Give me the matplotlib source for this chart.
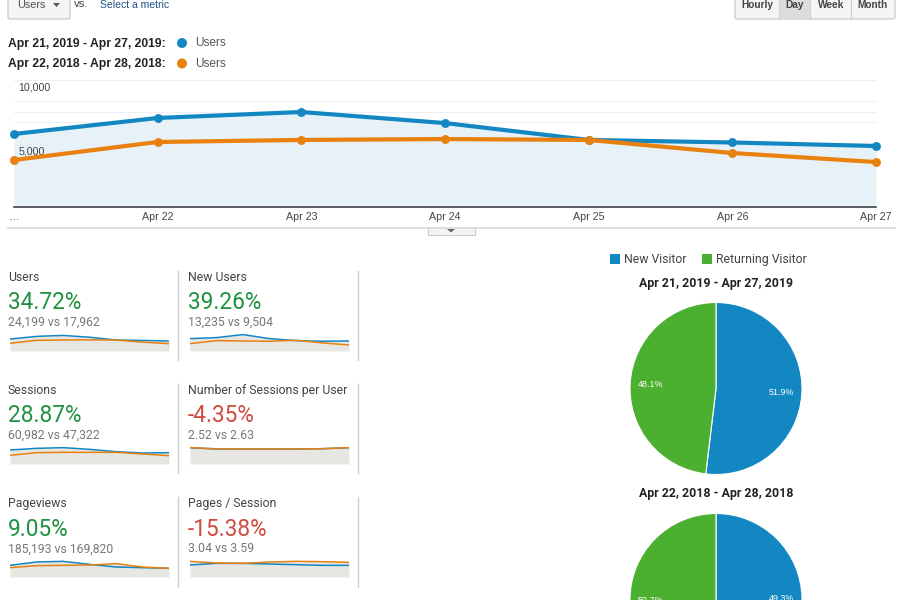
import matplotlib
matplotlib.use("Agg")
import matplotlib.pyplot as plt
from matplotlib.patches import Rectangle, FancyBboxPatch, Polygon, Circle
from matplotlib.transforms import ScaledTranslation

# ---------- data ----------
days = ["…", "Apr 22", "Apr 23", "Apr 24", "Apr 25", "Apr 26", "Apr 27"]
users_2019 = [5750, 7010, 7480, 6610, 5280, 5080, 4800]
users_2018 = [3700, 5120, 5280, 5350, 5280, 4250, 3540]
grid_values = [1650, 2440, 3390, 5040, 6690, 7480, 8350, 10000]
y_ticks = [5000, 10000]
y_tick_labels = ["5,000", "10,000"]

titles = ["Users", "New Users", "Sessions", "Number of Sessions per User", "Pageviews", "Pages / Session"]
changes = ["34.72%", "39.26%", "28.87%", "-4.35%", "9.05%", "-15.38%"]
compares = ["24,199 vs 17,962", "13,235 vs 9,504", "60,982 vs 47,322",
            "2.52 vs 2.63", "185,193 vs 169,820", "3.04 vs 3.59"]
spark_2019 = [
    [5750, 7010, 7480, 6610, 5280, 5080, 4800],
    [1930, 2090, 2560, 1930, 1620, 1520, 1570],
    [8950, 10010, 10440, 9370, 7880, 7030, 7240],
    [2.68, 2.46, 2.46, 2.46, 2.46, 2.52, 2.68],
    [26040, 33480, 34970, 28270, 22320, 20830, 19340],
    [2.90, 3.30, 3.30, 3.14, 2.98, 2.82, 2.82],
]
spark_2018 = [
    [3700, 5120, 5280, 5350, 5280, 4250, 3540],
    [1150, 1620, 1570, 1520, 1670, 1260, 940],
    [5540, 7240, 7460, 7460, 7460, 6390, 5330],
    [2.70, 2.50, 2.46, 2.46, 2.46, 2.52, 2.70],
    [20830, 25300, 26040, 26780, 29760, 22320, 19340],
    [3.79, 3.39, 3.30, 3.63, 3.79, 3.71, 3.55],
]
spark_max = [9600, 3120, 12780, 3.29, 44640, 4.84]

pie_labels = ["New Visitor", "Returning Visitor"]
pie_2019 = [51.9, 48.1]
pie_2018 = [49.3, 50.7]
range_2019 = "Apr 21, 2019 - Apr 27, 2019"
range_2018 = "Apr 22, 2018 - Apr 28, 2018"

# ---------- style ----------
BLUE, ORANGE, GREEN = "#1387c2", "#e8810f", "#4bb02f"
UP, DOWN = "#1f9141", "#cf4a3f"
W, H = 900, 600
fig = plt.figure(figsize=(9, 6), dpi=100, facecolor="white")


def axes_px(x0, y0, x1, y1, **kw):
    return fig.add_axes([x0 / W, 1 - y1 / H, (x1 - x0) / W, (y1 - y0) / H], **kw)


bg = axes_px(0, 0, W, H)
bg.set_xlim(0, W)
bg.set_ylim(H, 0)
bg.axis("off")


def label(x, y, s, size=8.4, color="#444444", family="Liberation Sans", **kw):
    kw.setdefault("va", "center")
    bg.text(x, y, s, fontsize=size, color=color, family=family, **kw)


# ---------- header controls ----------
bg.add_patch(FancyBboxPatch((8, -8), 62, 27, boxstyle="round,pad=0,rounding_size=2",
                            fc="#f5f5f5", ec="#c4c4c4", lw=0.8))
label(17, 5, "Users", 7.8, "#555555")
bg.add_patch(Polygon([[53, 3], [60, 3], [56.5, 7]], closed=True, fc="#555555", ec="none"))
label(74, 4, "vs.", 8.2, "#444444")
label(100, 5, "Select a metric", 7.5, "#1f4f87")

bg.add_patch(FancyBboxPatch((735, -8), 160, 27, boxstyle="round,pad=0,rounding_size=2",
                            fc="#f5f5f5", ec="#c4c4c4", lw=0.8))
bg.add_patch(Rectangle((779, 0), 31, 18.5, fc="#dcdcdc", ec="none"))
for x in [779, 810, 851]:
    bg.plot([x, x], [0, 19], color="#cfcfcf", lw=0.8)
for x, s in [(757, "Hourly"), (795, "Day"), (831, "Week"), (873, "Month")]:
    label(x, 5.5, s, 7.3, "#444444", ha="center", fontweight="bold")

# ---------- legend rows ----------
for y, rng, col in [(43.5, range_2019, BLUE), (64, range_2018, ORANGE)]:
    label(8, y, rng + ":", 8.75, "#222222", fontweight="bold")
    bg.add_patch(Circle((182, y - 0.5), 5, fc=col, ec="none"))
    label(195, y, "Users", 8.6, "#555555")

# ---------- main line chart ----------
ax = axes_px(14, 80, 876, 207)
ax.patch.set_alpha(0)
xs = list(range(len(days)))
ax.set_xlim(0, len(days) - 1)
ax.set_ylim(0, 10000)
ax.fill_between(xs, users_2019, 0, color="#e7f1f8", lw=0, zorder=1)
for g in grid_values:
    ax.axhline(g, color="#edf0f2", lw=0.8, zorder=1.5, clip_on=False)
ax.plot(xs, users_2019, color=BLUE, lw=3.0, marker="o", ms=6.4, mew=0, zorder=3, clip_on=False)
ax.plot(xs, users_2018, color=ORANGE, lw=3.0, marker="o", ms=6.4, mew=0, zorder=4, clip_on=False)
for s in ["top", "left", "right"]:
    ax.spines[s].set_visible(False)
ax.spines["bottom"].set_color("#333333")
ax.spines["bottom"].set_linewidth(1.1)
ax.set_xticks(xs, days)
ax.set_yticks(y_ticks, y_tick_labels)
ax.tick_params(axis="x", length=0, pad=3.3, labelsize=7.7, labelcolor="#444444")
ax.tick_params(axis="y", length=0, pad=-3, labelsize=7.7, labelcolor="#444444")
for t in ax.get_xticklabels() + ax.get_yticklabels():
    t.set_family("Liberation Sans")
for t in ax.get_yticklabels():
    t.set_ha("left")
    t.set_va("center")
    t.set_transform(t.get_transform() + ScaledTranslation(0, -8 / 100, fig.dpi_scale_trans))
    t.set_zorder(5)

# collapse handle
bg.plot([8, 895], [227.5, 227.5], color="#dddddd", lw=1.3)
bg.add_patch(Rectangle((428, 227), 47, 7.5, fc="#f3f3f3", ec="#c8c8c8", lw=0.7))
bg.add_patch(Polygon([[447, 229], [455, 229], [451, 232.5]], closed=True, fc="#666666", ec="none"))

# ---------- scorecards ----------
col_x = [8, 188]
spark_x = [(10, 169), (190, 349)]
row_y = [277.5, 390.5, 504]
base_y = [351, 464, 577]
for i, t in enumerate(titles):
    r, c = i // 2, i % 2
    x, y = col_x[c], row_y[r]
    label(x, y, t, 8.85, "#444444", "Roboto")
    color = DOWN if changes[i].startswith("-") else UP
    label(x, y + 25, changes[i], 16.3, color, "Roboto")
    label(x, y + 45, compares[i], 8.85, "#777777", "Roboto")
    x0, x1 = spark_x[c]
    sp = axes_px(x0, base_y[r] - 20, x1, base_y[r])
    sp.axis("off")
    sp.set_xlim(0, 6)
    sp.set_ylim(0, spark_max[i])
    sp.fill_between(xs, [max(a, b) for a, b in zip(spark_2019[i], spark_2018[i])], 0,
                    color="#e6e6e2", lw=0)
    sp.plot(xs, spark_2019[i], color=BLUE, lw=1.1)
    sp.plot(xs, spark_2018[i], color=ORANGE, lw=1.1)
for top, bot in [(271, 360), (384, 473), (497, 587)]:
    for x in [178, 358]:
        bg.plot([x, x], [top, bot], color="#cfcfcf", lw=1)

# ---------- pies ----------
bg.add_patch(Rectangle((610, 254), 9.5, 9.5, fc=BLUE, ec="none"))
label(624.5, 259.5, pie_labels[0], 8.85, "#444444", "Roboto")
bg.add_patch(Rectangle((702, 254), 9.5, 9.5, fc=GREEN, ec="none"))
label(716, 259.5, pie_labels[1], 8.85, "#444444", "Roboto")

for rng, vals, ty, cy in [(range_2019, pie_2019, 283, 388.5), (range_2018, pie_2018, 493, 599.5)]:
    label(716, ty, rng, 8.95, "#222222", "Roboto", ha="center", fontweight="bold")
    p = axes_px(716 - 87, cy - 87, 716 + 87, cy + 87)
    _, _, auto = p.pie(vals, colors=[BLUE, GREEN], startangle=90, counterclock=False, radius=86 / 87,
                       autopct="%.1f%%", pctdistance=0.76,
                       wedgeprops=dict(edgecolor="white", linewidth=0.8),
                       textprops=dict(color="white", fontsize=6.4, family="Liberation Sans"))
    p.set_xlim(-1, 1)
    p.set_ylim(-1, 1)

fig.savefig("out.png", dpi=100)
